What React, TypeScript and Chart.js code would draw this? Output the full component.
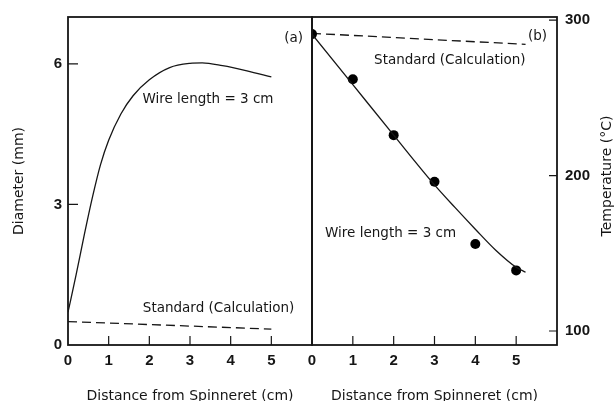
import { useEffect, useRef } from "react";
import { Chart, registerables } from "chart.js";

Chart.register(...registerables);

// Axis ticks
const DIST_TICKS = [0, 1, 2, 3, 4, 5];
const DIAM_TICKS = [0, 3, 6];
const TEMP_TICKS = [100, 200, 300];

// (a) jet diameter along the spinline, wire length = 3 cm
const DIAM_X = [0, 0.2, 0.4, 0.6, 0.8, 1.0, 1.3, 1.6, 2.0, 2.5, 3.0, 3.3, 3.8, 4.4, 5.0];
const DIAM_WIRE = [0.7, 1.5, 2.35, 3.15, 3.85, 4.37, 4.93, 5.32, 5.66, 5.92, 6.01, 6.02, 5.96, 5.85, 5.72];
// (a) standard calculation
const DIAM_STD_X = [0, 5];
const DIAM_STD = [0.5, 0.34];

// (b) measured temperature, wire length = 3 cm
const TEMP_MEAS_X = [0, 1, 2, 3, 4, 5];
const TEMP_MEAS = [291, 262, 226, 196, 156, 139];
// (b) smooth curve through the measurements
const TEMP_FIT_X = [0, 1, 2, 3, 3.5, 4, 4.5, 5, 5.23];
const TEMP_FIT = [291, 258.5, 226, 194, 179.5, 165.5, 152, 141, 137.8];
// (b) standard calculation
const TEMP_STD_X = [0, 5.23];
const TEMP_STD = [291.5, 284.4];

const INK = "#161616";
const TICK_FONT = { family: "'Liberation Sans', Arial, sans-serif", size: 15, weight: "bold" as const };
const TEXT_FAMILY = "'DejaVu Sans', sans-serif";
const TITLE_FONT = { family: TEXT_FAMILY, size: 14, lineHeight: 1 };
const NOTE_FONT = `13.5px ${TEXT_FAMILY}`;

const pts = (xs: number[], ys: number[]) => xs.map((x, i) => ({ x, y: ys[i] }));

const W = 615;
const H = 401;
const PLOT_TOP = 17;
const X_AXIS_H = 56;
const SPLIT = 312;

type Note = { text: string; x: number; y: number; align: CanvasTextAlign };

// Frame around the plot area, inward tick marks and in-plot labels
const decorations = (yId: string, notes: Note[], extra?: (c: Chart) => void) => ({
  id: "decorations_" + yId,
  afterDraw(chart: Chart) {
    const { ctx, chartArea: a } = chart;
    const xs = chart.scales.x;
    const ys = chart.scales[yId];
    ctx.save();
    ctx.strokeStyle = INK;
    ctx.lineWidth = 1.8;
    ctx.strokeRect(a.left, a.top, a.right - a.left, a.bottom - a.top);

    ctx.lineWidth = 1.2;
    ctx.beginPath();
    xs.ticks.forEach((t) => {
      const px = xs.getPixelForValue(t.value);
      if (px - a.left < 3 || a.right - px < 3) return;
      ctx.moveTo(px, a.bottom);
      ctx.lineTo(px, a.bottom - 9);
    });
    ys.ticks.forEach((t) => {
      const py = ys.getPixelForValue(t.value);
      if (a.bottom - py < 3 || py - a.top < 3) return;
      if (ys.position === "left") {
        ctx.moveTo(a.left, py);
        ctx.lineTo(a.left + 10, py);
      } else {
        ctx.moveTo(a.right, py);
        ctx.lineTo(a.right - 8, py);
      }
    });
    ctx.stroke();

    ctx.fillStyle = INK;
    ctx.font = NOTE_FONT;
    ctx.textBaseline = "middle";
    notes.forEach((n) => {
      ctx.textAlign = n.align;
      ctx.fillText(n.text, xs.getPixelForValue(n.x), ys.getPixelForValue(n.y));
    });
    if (extra) extra(chart);
    ctx.restore();
  },
});

const xScale = (title: string) => ({
  type: "linear" as const,
  min: 0,
  max: 6,
  grid: { display: false, drawTicks: false },
  border: { display: false },
  ticks: { color: INK, font: TICK_FONT, padding: 7, maxRotation: 0 },
  afterBuildTicks: (s: any) => {
    s.ticks = DIST_TICKS.map((v) => ({ value: v }));
  },
  afterFit: (s: any) => {
    s.height = X_AXIS_H;
  },
  title: {
    display: true,
    text: title,
    color: INK,
    font: TITLE_FONT,
    padding: { top: 0, bottom: -2 },
  },
});

export default function App() {
  const leftRef = useRef<HTMLCanvasElement | null>(null);
  const rightRef = useRef<HTMLCanvasElement | null>(null);

  useEffect(() => {
    if (!leftRef.current || !rightRef.current) return;

    const left = new Chart(leftRef.current, {
      type: "line",
      data: {
        datasets: [
          {
            label: "Wire length = 3 cm",
            data: pts(DIAM_X, DIAM_WIRE),
            borderColor: INK,
            borderWidth: 1.3,
            pointRadius: 0,
            cubicInterpolationMode: "monotone",
            fill: false,
          },
          {
            label: "Standard (Calculation)",
            data: pts(DIAM_STD_X, DIAM_STD),
            borderColor: INK,
            borderWidth: 1.3,
            borderDash: [9, 5],
            pointRadius: 0,
            fill: false,
          },
        ],
      },
      options: {
        responsive: false,
        animation: false,
        events: [],
        layout: { padding: { left: 0, right: W - SPLIT, top: PLOT_TOP, bottom: 0 } },
        plugins: { legend: { display: false }, tooltip: { enabled: false } },
        scales: {
          x: xScale("Distance from Spinneret (cm)"),
          y: {
            type: "linear",
            position: "left",
            min: 0,
            max: 7,
            grid: { display: false, drawTicks: false },
            border: { display: false },
            ticks: { color: INK, font: TICK_FONT, padding: 6 },
            afterBuildTicks: (s: any) => {
              s.ticks = DIAM_TICKS.map((v) => ({ value: v }));
            },
            afterFit: (s: any) => {
              s.width = 68;
            },
            title: {
              display: true,
              text: "Diameter (mm)",
              color: INK,
              font: TITLE_FONT,
              padding: { top: 12, bottom: 0 },
            },
          },
        },
      },
      plugins: [
        decorations("y", [
          { text: "Wire length = 3 cm", x: 1.83, y: 5.23, align: "left" },
          { text: "Standard (Calculation)", x: 1.84, y: 0.78, align: "left" },
          { text: "(a)", x: 5.78, y: 6.55, align: "right" },
        ]),
      ],
    } as any);

    const right = new Chart(rightRef.current, {
      type: "line",
      data: {
        datasets: [
          {
            label: "Wire length = 3 cm",
            data: pts(TEMP_FIT_X, TEMP_FIT),
            borderColor: INK,
            borderWidth: 1.3,
            pointRadius: 0,
            cubicInterpolationMode: "monotone",
            fill: false,
            yAxisID: "yT",
          },
          {
            label: "Measured",
            data: pts(TEMP_MEAS_X, TEMP_MEAS),
            showLine: false,
            pointRadius: 5,
            pointBackgroundColor: "#000",
            pointBorderColor: "#000",
            pointBorderWidth: 0,
            yAxisID: "yT",
          },
          {
            label: "Standard (Calculation)",
            data: pts(TEMP_STD_X, TEMP_STD),
            borderColor: INK,
            borderWidth: 1.3,
            borderDash: [9, 5],
            pointRadius: 0,
            fill: false,
            yAxisID: "yT",
          },
        ],
      },
      options: {
        responsive: false,
        animation: false,
        events: [],
        layout: { padding: { left: SPLIT, right: 0, top: PLOT_TOP, bottom: 0 } },
        plugins: { legend: { display: false }, tooltip: { enabled: false } },
        scales: {
          x: xScale("Distance from Spinneret (cm)"),
          yT: {
            type: "linear",
            position: "right",
            min: 91,
            max: 302,
            grid: { display: false, drawTicks: false },
            border: { display: false },
            ticks: { color: INK, font: TICK_FONT, padding: 8 },
            afterBuildTicks: (s: any) => {
              s.ticks = TEMP_TICKS.map((v) => ({ value: v }));
            },
            afterFit: (s: any) => {
              s.width = 58;
            },
          },
        },
      },
      plugins: [
        decorations(
          "yT",
          [
            { text: "(b)", x: 5.29, y: 289.3, align: "left" },
            { text: "Standard (Calculation)", x: 1.52, y: 274.3, align: "left" },
            { text: "Wire length = 3 cm", x: 0.32, y: 162.9, align: "left" },
          ],
          (c) => {
            // Axis title reading bottom-to-top on the right side
            const ctx = c.ctx;
            const a = c.chartArea;
            ctx.save();
            ctx.translate(W - 8, (a.top + a.bottom) / 2 - 5);
            ctx.rotate(-Math.PI / 2);
            ctx.font = `14px ${TEXT_FAMILY}`;
            ctx.textAlign = "center";
            ctx.textBaseline = "middle";
            ctx.fillStyle = INK;
            ctx.fillText("Temperature (\u00B0C)", 0, 0);
            ctx.restore();
          }
        ),
      ],
    } as any);

    return () => {
      left.destroy();
      right.destroy();
    };
  }, []);

  const canvasStyle: React.CSSProperties = { position: "absolute", left: 0, top: 0 };

  return (
    <div style={{ position: "absolute", left: 0, top: 0, width: W, height: H, background: "#fff" }}>
      <canvas ref={leftRef} width={W} height={H} style={canvasStyle} />
      <canvas ref={rightRef} width={W} height={H} style={canvasStyle} />
    </div>
  );
}
